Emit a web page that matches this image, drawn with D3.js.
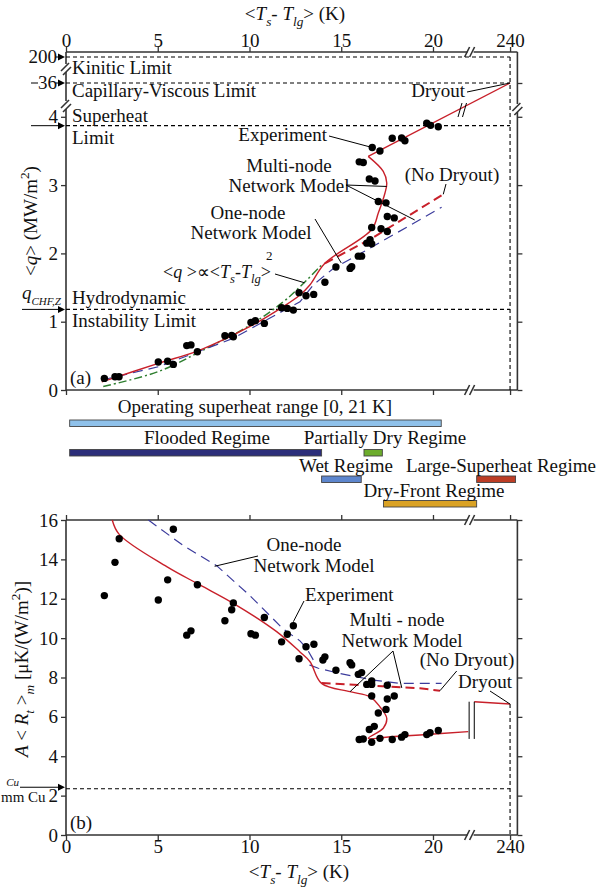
<!DOCTYPE html>
<html lang="en">
<head>
<meta charset="utf-8">
<title>superheat regimes</title>
<script src="https://d3js.org/d3.v7.min.js"></script>
<style>
body { margin: 0; background: #fff; }
svg text { font-family: "Liberation Serif", "Times New Roman", Times, serif; font-size: 19px; fill: #111; }
.tick text { font-family: "Liberation Serif", "Times New Roman", Times, serif; font-size: 19px; fill: #111; }
.tick line { stroke: #333; stroke-width: 1.3; }
.frame { stroke: #333; stroke-width: 1.6; fill: none; }
.limit { stroke: #000; stroke-width: 1.1; stroke-dasharray: 4,3; fill: none; }
.leader { stroke: #000; stroke-width: 1; fill: none; }
</style>
</head>
<body>
<svg id="chart" width="608" height="888"></svg>
<script>
// ---------- data ----------
var xTicks = [0, 5, 10, 15, 20, 240];
var qTicks = [0, 1, 2, 3, 4];
var rTicks = [0, 2, 4, 6, 8, 10, 12, 14, 16];

// limits in panel (a), MW/m2
var limitNames = ["Kinitic Limit", "Capillary-Viscous Limit", "Superheat Limit", "Hydrodynamic Instability Limit"];
var limitQ = [200, 36, 3.87, 1.18];

// panel (a): heat flux vs superheat
var expTa = [2.09, 2.67, 2.89, 5.03, 5.54, 5.85, 6.58, 6.81, 7.16, 8.66, 9.03, 9.12, 10.08, 10.32, 10.81, 11.75, 12.06, 12.39, 12.7, 13.08, 13.5, 14.11, 14.71, 15.48, 15.57, 15.93, 16.11, 16.39, 16.66, 16.57, 16.66, 17.17, 17.51, 17.51, 17.89, 17.02, 17.44, 16.53, 16.84, 15.98, 16.2, 16.69, 17.11, 17.78, 18.29, 18.47, 19.66, 19.87, 20.29];
var expQ  = [0.17, 0.195, 0.195, 0.41, 0.42, 0.375, 0.65, 0.66, 0.56, 0.795, 0.80, 0.78, 0.99, 1.015, 0.975, 1.205, 1.195, 1.17, 1.425, 1.38, 1.40, 1.577, 1.8, 1.78, 1.805, 1.96, 1.96, 2.15, 2.14, 2.2, 2.38, 2.36, 2.32, 2.54, 2.52, 2.76, 2.74, 3.09, 3.06, 3.34, 3.33, 3.55, 3.5, 3.685, 3.69, 3.65, 3.905, 3.875, 3.855];

var multiTa = [1.95, 5.03, 7.3, 10.03, 11.84, 12.75, 13.3, 14.11, 16.66, 17.02, 17.38, 17.48, 17.29, 16.47];
var multiQa = [0.12, 0.39, 0.585, 0.93, 1.22, 1.39, 1.54, 1.855, 2.35, 2.59, 2.88, 3.03, 3.2, 3.42];
var dryTa = [16.47, 240];
var dryQa = [3.42, 36];
var noDryTa = [14.11, 16.66, 20.56];
var noDryQa = [1.855, 2.22, 2.865];
var oneTa = [1.95, 5.03, 9.12, 11.84, 12.75, 13.48, 14.57, 16.39, 20.47];
var oneQa = [0.146, 0.34, 0.757, 1.16, 1.29, 1.54, 1.78, 2.05, 2.675];
var squareT = [2.03, 5.03, 7.3, 10.03, 11.84, 12.75, 14.0];
var squareQ = [0.05, 0.27, 0.56, 0.95, 1.29, 1.51, 1.85];

// regimes (K)
var regimeNames = ["Operating superheat range [0, 21 K]", "Flooded Regime", "Partially Dry Regime", "Wet Regime", "Large-Superheat Regime", "Dry-Front Regime"];
var regimeFrom = [0.2, 0.2, 16.24, 13.93, 238.18, 17.3];
var regimeTo   = [20.45, 13.93, 17.24, 16.09, 240.3, 238.18];

// panel (b): thermal resistance vs superheat
var expTb = [2.09, 2.67, 2.9, 5.03, 5.54, 5.85, 6.58, 6.81, 7.16, 8.66, 9.03, 9.12, 10.08, 10.32, 10.81, 11.75, 12.06, 12.39, 12.7, 13.08, 13.51, 14.11, 14.0, 14.71, 15.48, 15.57, 15.93, 16.11, 16.39, 16.66, 16.66, 16.66, 17.51, 17.51, 17.89, 17.44, 17.02, 16.8, 16.53, 15.98, 16.2, 16.66, 17.11, 17.78, 18.29, 18.47, 19.66, 19.84, 20.29];
var expR  = [12.16, 13.85, 15.05, 11.94, 12.96, 15.53, 10.15, 10.37, 12.71, 10.88, 11.44, 11.79, 10.22, 10.15, 11.05, 9.81, 10.2, 10.63, 8.95, 9.56, 9.69, 9.05, 8.89, 8.37, 8.75, 8.64, 8.16, 8.25, 7.65, 7.65, 7.82, 7.06, 7.61, 6.91, 7.06, 6.38, 6.2, 5.52, 5.36, 4.85, 4.88, 4.71, 4.91, 4.85, 4.97, 5.1, 5.1, 5.19, 5.31];

var multiTb = [2.52, 2.9, 5.49, 7.3, 9.12, 11.48, 12.75, 13.3, 13.93, 15.48, 16.57, 17.11, 17.48, 17.29, 16.47, 17.66, 19.29, 21.92];
var multiRb = [16.0, 15.27, 13.63, 12.7, 11.77, 10.33, 9.3, 8.8, 7.7, 7.28, 7.02, 6.51, 5.93, 5.42, 4.91, 4.99, 5.08, 5.25];
var dryTb = [238.05, 240];
var dryRb = [6.77, 6.65];
var noDryTb = [13.93, 19.29, 20.38];
var noDryRb = [7.72, 7.45, 7.33];
var oneTb = [4.49, 6.39, 8.21, 10.03, 11.84, 12.75, 13.12, 13.48, 13.3, 13.75, 14.93, 16.75, 18.2, 20.47];
var oneRb = [16.0, 14.7, 13.68, 12.15, 10.46, 9.86, 9.48, 8.89, 8.63, 8.47, 8.2, 7.87, 7.7, 7.7];
var cuR = 2.35;

// ---------- layout ----------
var red = "#c8202a", blue = "#3b3b9c", green = "#2f7f30";
var regimeColors = ["#8fc1ea", "#2c2e7a", "#6cac2c", "#5d86cd", "#bc3d25", "#daa224"];
var regimeRowY = [420, 449.5, 449.5, 476, 476, 500.5];
var regimeLabelX = [255, 207, 385, 346, 501, 434];
var regimeLabelY = [413, 444, 444, 472, 472, 497];

var svg = d3.select("#chart");

// broken x axis: 0..22 K then a jump to ~240 K
var x = d3.scaleLinear().domain([0, 22.05, 237.85, 240.4]).range([66, 470.6, 470.6, 517.4]);
// broken q axis: 0..4 then 36 and 200
var yA = d3.scaleLinear().domain([0, 4.18, 36, 200, 230]).range([390, 104.5, 83, 57, 52]);
var yB = d3.scaleLinear().domain([0, 16]).range([835, 520]);

function rich(parent, px, py, anchor, parts, size, subScale) {
  size = size || 19; subScale = subScale || 0.7;
  var t = parent.append("text").attr("x", px).attr("y", py).attr("text-anchor", anchor).style("font-size", size + "px");
  var cur = 0;
  parts.forEach(function (p) {
    if (typeof p === "string") p = {t: p};
    var shift = p.sub ? size * 0.3 : (p.sup ? -size * 0.42 : 0);
    t.append("tspan").attr("dy", shift - cur)
      .style("font-style", p.i ? "italic" : "normal")
      .style("font-size", (p.sub || p.sup) ? (size * subScale) + "px" : size + "px")
      .text(p.t);
    cur = shift;
  });
  return t;
}
function seg(x1, y1, x2, y2, cls) {
  svg.append("line").attr("class", cls || "leader").attr("x1", x1).attr("y1", y1).attr("x2", x2).attr("y2", y2);
}
function arrow(x1, yy, x2) {
  seg(x1, yy, x2 - 5, yy);
  svg.append("path").attr("d", "M" + (x2 - 7) + "," + (yy - 3.5) + "L" + x2 + "," + yy + "L" + (x2 - 7) + "," + (yy + 3.5) + "Z").attr("fill", "#000");
}
function breakH(cx, cy) { // "//" on a horizontal line
  seg(cx - 6, cy + 5, cx - 1, cy - 5, "frame");
  seg(cx - 1, cy + 5, cx + 4, cy - 5, "frame");
}
function breakV(cx, cy) { // "//" on a vertical line
  seg(cx - 5, cy + 3, cx + 3, cy - 5, "frame");
  seg(cx - 3, cy + 7, cx + 5, cy - 1, "frame");
}
function noDomain(g) { g.select(".domain").remove(); }
var tempTitle = ["<", {t: "T", i: true}, {t: "s", i: true, sub: true}, "- ", {t: "T", i: true}, {t: "lg", i: true, sub: true}, "> (K)"];

// ================= panel (a) =================
var xB = x(22.05);
// frame with breaks
seg(66, 52, xB - 3, 52, "frame"); seg(xB + 3, 52, 517.4, 52, "frame");
seg(66, 390, xB - 3, 390, "frame"); seg(xB + 3, 390, 517.4, 390, "frame");
seg(66, 52, 66, 64, "frame"); seg(66, 72, 66, 101, "frame"); seg(66, 109, 66, 390, "frame");
seg(517.4, 52, 517.4, 104, "frame"); seg(517.4, 112, 517.4, 390, "frame");
breakH(xB, 52); breakH(xB, 390);
breakV(66, 68); breakV(66, 105); breakV(517.4, 108);

svg.append("g").attr("transform", "translate(0,52)")
  .call(d3.axisTop(x).tickValues(xTicks).tickSize(5).tickPadding(0).tickFormat(d3.format("d"))).call(noDomain);
svg.append("g").attr("transform", "translate(0,390)")
  .call(d3.axisBottom(x).tickValues(xTicks).tickSize(5).tickFormat("")).call(noDomain);
svg.append("g").attr("transform", "translate(66,0)")
  .call(d3.axisLeft(yA).tickValues(qTicks).tickSize(5).tickPadding(3).tickFormat(d3.format("d"))).call(noDomain);
svg.append("g").attr("transform", "translate(517.4,0)")
  .call(d3.axisRight(yA).tickValues(qTicks.concat([36])).tickSize(5).tickFormat("")).call(noDomain);

// labelled arrows on the left axis
[200, 36].forEach(function (v) {
  svg.append("text").attr("x", 57).attr("y", yA(v) + 6).attr("text-anchor", "end").text(v);
  arrow(56, yA(v), 65);
});
seg(31, yA(36), 38, yA(36));
arrow(31, yA(limitQ[2]), 65);
arrow(22, yA(limitQ[3]), 65);
rich(svg, 22, 299, "start", [{t: "q", i: true}, {t: "CHF,Z", i: true, sub: true}], 19, 0.58);

// limit lines
limitQ.forEach(function (v) {
  svg.append("line").attr("class", "limit").attr("x1", x(0)).attr("x2", x(240)).attr("y1", yA(v)).attr("y2", yA(v));
});
svg.append("line").attr("class", "limit").attr("x1", x(240)).attr("x2", x(240)).attr("y1", yA(200)).attr("y2", yA(0));
svg.append("text").attr("x", 72).attr("y", 74).text(limitNames[0]);
svg.append("text").attr("x", 72).attr("y", 97).text(limitNames[1]);
svg.append("text").attr("x", 72).attr("y", 122).text("Superheat");
svg.append("text").attr("x", 72).attr("y", 144).text("Limit");
svg.append("text").attr("x", 72).attr("y", 304).text("Hydrodynamic");
svg.append("text").attr("x", 72).attr("y", 327).text("Instability Limit");

var lineA = d3.line().x(function (d) { return x(d[0]); }).y(function (d) { return yA(d[1]); });
var lineB = d3.line().x(function (d) { return x(d[0]); }).y(function (d) { return yB(d[1]); });
var smoothA = d3.line().curve(d3.curveCatmullRom.alpha(0.5)).x(function (d) { return x(d[0]); }).y(function (d) { return yA(d[1]); });
var smoothB = d3.line().curve(d3.curveCatmullRom.alpha(0.5)).x(function (d) { return x(d[0]); }).y(function (d) { return yB(d[1]); });

svg.append("path").datum(d3.zip(squareT, squareQ)).attr("d", smoothA)
  .attr("fill", "none").attr("stroke", green).attr("stroke-width", 1.5).attr("stroke-dasharray", "8,3,2,3");
svg.append("path").datum(d3.zip(oneTa, oneQa)).attr("d", lineA)
  .attr("fill", "none").attr("stroke", blue).attr("stroke-width", 1.2).attr("stroke-dasharray", "10,6");
svg.append("path").datum(d3.zip(noDryTa, noDryQa)).attr("d", lineA)
  .attr("fill", "none").attr("stroke", red).attr("stroke-width", 2).attr("stroke-dasharray", "9,5");
svg.append("path").datum(d3.zip(multiTa, multiQa)).attr("d", smoothA)
  .attr("fill", "none").attr("stroke", red).attr("stroke-width", 1.4);
svg.append("path").datum(d3.zip(dryTa, dryQa)).attr("d", lineA)
  .attr("fill", "none").attr("stroke", red).attr("stroke-width", 1.4);
seg(458, 117, 462, 103); seg(462.5, 117, 466.5, 103);

svg.append("g").selectAll("circle").data(d3.zip(expTa, expQ)).enter().append("circle")
  .attr("cx", function (d) { return x(d[0]); }).attr("cy", function (d) { return yA(d[1]); })
  .attr("r", 3.7).attr("fill", "#000");

// annotations (a)
svg.append("text").attr("x", 465).attr("y", 97).attr("text-anchor", "end").text("Dryout");
seg(467, 92, x(240), yA(36));
svg.append("text").attr("x", 327).attr("y", 141).attr("text-anchor", "end").text("Experiment");
seg(329, 136, x(16.69), yA(3.55));
svg.append("text").attr("x", 289).attr("y", 172).attr("text-anchor", "middle").text("Multi-node");
svg.append("text").attr("x", 289).attr("y", 192).attr("text-anchor", "middle").text("Network Model");
seg(346, 185, x(17.48), yA(2.98)); seg(346, 185, x(19.0), yA(2.49));
svg.append("text").attr("x", 452).attr("y", 181).attr("text-anchor", "middle").text("(No Dryout)");
seg(446, 184, x(20.56), yA(2.865));
svg.append("text").attr("x", 248).attr("y", 219).attr("text-anchor", "middle").text("One-node");
svg.append("text").attr("x", 251).attr("y", 239).attr("text-anchor", "middle").text("Network Model");
seg(315, 219, x(15.0), yA(1.86));
rich(svg, 163, 278, "start", ["<", {t: "q", i: true}, " >\u221D<", {t: "T", i: true}, {t: "s", i: true, sub: true}, "-", {t: "T", i: true}, {t: "lg", i: true, sub: true}, ">"], 18);
svg.append("text").attr("x", 266).attr("y", 260).style("font-size", "13px").text("2");
seg(275, 274, x(13.0), yA(1.57));
svg.append("text").attr("x", 70).attr("y", 384).text("(a)");

// axis titles (a)
rich(svg, 295, 20, "middle", tempTitle, 19);
var gyA = svg.append("g").attr("transform", "translate(37,221) rotate(-90)");
rich(gyA, 0, 0, "middle", ["<", {t: "q", i: true}, "> (MW/m", {t: "2", sup: true}, ")"], 19);

// ================= regimes =================
svg.append("g").selectAll("rect").data(regimeNames).enter().append("rect")
  .attr("x", function (d, i) { return x(regimeFrom[i]); })
  .attr("width", function (d, i) { return x(regimeTo[i]) - x(regimeFrom[i]); })
  .attr("y", function (d, i) { return regimeRowY[i]; })
  .attr("height", 6.5)
  .attr("fill", function (d, i) { return regimeColors[i]; })
  .attr("stroke", "#444").attr("stroke-width", 0.9);
svg.append("g").selectAll("text").data(regimeNames).enter().append("text")
  .attr("x", function (d, i) { return regimeLabelX[i]; })
  .attr("y", function (d, i) { return regimeLabelY[i]; })
  .attr("text-anchor", "middle").text(function (d) { return d; });

// ================= panel (b) =================
seg(66, 520, xB - 3, 520, "frame"); seg(xB + 3, 520, 517.4, 520, "frame");
seg(66, 835, xB - 3, 835, "frame"); seg(xB + 3, 835, 517.4, 835, "frame");
seg(66, 520, 66, 835, "frame"); seg(517.4, 520, 517.4, 835, "frame");
breakH(xB, 520); breakH(xB, 835);

svg.append("g").attr("transform", "translate(0,520)")
  .call(d3.axisTop(x).tickValues(xTicks).tickSize(5).tickFormat("")).call(noDomain);
svg.append("g").attr("transform", "translate(0,835)")
  .call(d3.axisBottom(x).tickValues(xTicks).tickSize(5).tickPadding(0).tickFormat(d3.format("d"))).call(noDomain);
svg.append("g").attr("transform", "translate(66,0)")
  .call(d3.axisLeft(yB).tickValues(rTicks).tickSize(5).tickPadding(3).tickFormat(d3.format("d"))).call(noDomain);
svg.append("g").attr("transform", "translate(517.4,0)")
  .call(d3.axisRight(yB).tickValues(rTicks).tickSize(5).tickFormat("")).call(noDomain);

svg.append("line").attr("class", "limit").attr("x1", x(0)).attr("x2", x(240)).attr("y1", yB(cuR)).attr("y2", yB(cuR));
svg.append("line").attr("class", "limit").attr("x1", x(240)).attr("x2", x(240)).attr("y1", yB(dryRb[1])).attr("y2", yB(0));
arrow(20, yB(cuR) - 1.5, 65);
svg.append("text").attr("x", 19).attr("y", yB(cuR) - 3).attr("text-anchor", "end")
  .style("font-size", "11px").style("font-style", "italic").text("Cu");
svg.append("text").attr("x", 1).attr("y", 802).style("font-size", "15px").text("mm Cu");

svg.append("path").datum(d3.zip(oneTb, oneRb)).attr("d", lineB)
  .attr("fill", "none").attr("stroke", blue).attr("stroke-width", 1.2).attr("stroke-dasharray", "10,6");
svg.append("path").datum(d3.zip(noDryTb, noDryRb)).attr("d", lineB)
  .attr("fill", "none").attr("stroke", red).attr("stroke-width", 2).attr("stroke-dasharray", "9,5");
svg.append("path").datum(d3.zip(multiTb, multiRb)).attr("d", smoothB)
  .attr("fill", "none").attr("stroke", red).attr("stroke-width", 1.4);
svg.append("path").datum(d3.zip(dryTb, dryRb)).attr("d", lineB)
  .attr("fill", "none").attr("stroke", red).attr("stroke-width", 1.4);
seg(x(21.97), yB(dryRb[0]), x(21.97), yB(4.88));
seg(x(238.05), yB(dryRb[0]), x(238.05), yB(4.88));

svg.append("g").selectAll("circle").data(d3.zip(expTb, expR)).enter().append("circle")
  .attr("cx", function (d) { return x(d[0]); }).attr("cy", function (d) { return yB(d[1]); })
  .attr("r", 3.7).attr("fill", "#000");

// annotations (b)
svg.append("text").attr("x", 304).attr("y", 551).attr("text-anchor", "middle").text("One-node");
svg.append("text").attr("x", 314).attr("y", 572).attr("text-anchor", "middle").text("Network Model");
seg(258, 556, x(8.1), yB(13.65));
svg.append("text").attr("x", 305).attr("y", 601).text("Experiment");
seg(304, 601, x(12.39), yB(10.63) - 4);
svg.append("text").attr("x", 397).attr("y", 626).attr("text-anchor", "middle").text("Multi - node");
svg.append("text").attr("x", 402).attr("y", 647).attr("text-anchor", "middle").text("Network Model");
seg(393, 651, x(15.48), yB(7.28)); seg(393, 651, x(18.3), yB(7.47));
svg.append("text").attr("x", 467).attr("y", 666).attr("text-anchor", "middle").text("(No Dryout)");
seg(456.7, 671, x(20.38), yB(7.33));
svg.append("text").attr("x", 485).attr("y", 688).attr("text-anchor", "middle").text("Dryout");
seg(490, 691, x(240), yB(dryRb[1]));
svg.append("text").attr("x", 70).attr("y", 829).text("(b)");

rich(svg, 299, 878, "middle", tempTitle, 19);
var gyB = svg.append("g").attr("transform", "translate(28,669) rotate(-90)");
rich(gyB, 0, 0, "middle", [{t: "A", i: true}, " < ", {t: "R", i: true}, {t: "t", i: true, sub: true}, " >", {t: "m", i: true, sub: true}, " [\u03BCK/(W/m", {t: "2", sup: true}, ")]"], 19);
</script>
</body>
</html>
